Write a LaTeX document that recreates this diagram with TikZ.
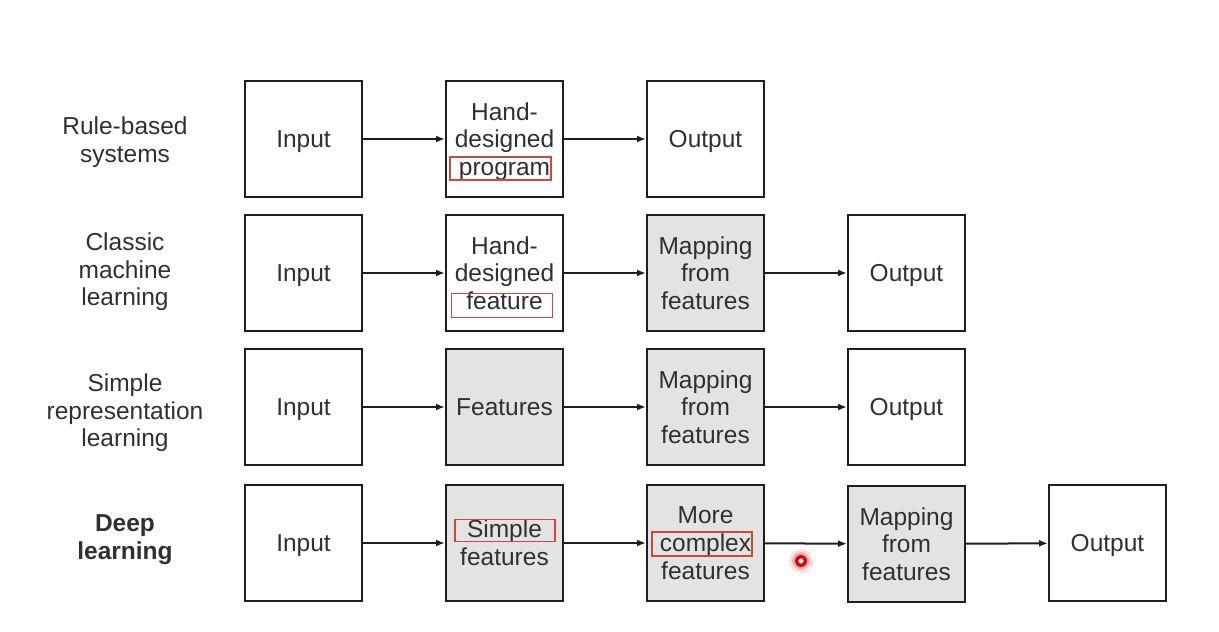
\documentclass[tikz,border=0pt]{standalone}
\usepackage{fontspec}
\setmainfont{Liberation Sans}
\usetikzlibrary{arrows.meta}
\definecolor{txt}{HTML}{303030}
\definecolor{edge}{HTML}{1E1E1E}
\definecolor{shade}{HTML}{E3E3E3}
\definecolor{hlred}{HTML}{D2473A}
\tikzset{
  stage/.style={draw=edge, line width=2pt, minimum width=117pt, minimum height=116pt,
    inner sep=0pt, align=center, text=txt, text depth=-3pt,
    font=\fontsize{24.5}{27.8}\selectfont},
  learned/.style={stage, fill=shade},
  rowlabel/.style={align=center, text=txt, font=\fontsize{24.5}{27.5}\selectfont},
  flow/.style={draw=edge, line width=2pt, -{Latex[length=9pt,width=7pt]}},
  hlbox/.style={draw=hlred, line width=1.3pt, inner sep=0pt}
}
\begin{document}
\begin{tikzpicture}[x=1pt,y=-1pt]
\useasboundingbox (0,0) rectangle (1219,632);
% row labels
\node[rowlabel] (l1) at (125,142) {Rule-based\\systems};
\node[rowlabel] (l2) at (125,272) {Classic\\machine\\learning};
\node[rowlabel] (l3) at (125,413) {Simple\\representation\\learning};
\node[rowlabel, font=\fontsize{24.5}{27.5}\selectfont\bfseries] (l4) at (125,539.5) {Deep\\learning};
% row 1
\node[stage] (a1) at (303.5,139) {Input};
\node[stage] (a2) at (504.5,139) {Hand-\\designed\\program};
\node[stage] (a3) at (705.5,139) {Output};
% row 2
\node[stage] (b1) at (303.5,273) {Input};
\node[stage] (b2) at (504.5,273) {Hand-\\designed\\feature};
\node[learned] (b3) at (705.5,273) {Mapping\\from\\features};
\node[stage] (b4) at (906.5,273) {Output};
% row 3
\node[stage] (c1) at (303.5,407) {Input};
\node[learned] (c2) at (504.5,407) {Features};
\node[learned] (c3) at (705.5,407) {Mapping\\from\\features};
\node[stage] (c4) at (906.5,407) {Output};
% row 4
\node[stage] (d1) at (303.5,543) {Input};
\node[learned] (d2) at (504.5,543) {Simple\\features};
\node[learned] (d3) at (705.5,543) {More\\complex\\features};
\node[learned] (d4) at (906.5,544) {Mapping\\from\\features};
\node[stage] (d5) at (1107.5,543) {Output};
% connectors
\draw[flow] (a1) -- (a2);
\draw[flow] (a2) -- (a3);
\draw[flow] (b1) -- (b2);
\draw[flow] (b2) -- (b3);
\draw[flow] (b3) -- (b4);
\draw[flow] (c1) -- (c2);
\draw[flow] (c2) -- (c3);
\draw[flow] (c3) -- (c4);
\draw[flow] (d1) -- (d2);
\draw[flow] (d2) -- (d3);
\draw[flow] (d3) -- (d4);
\draw[flow] (d4) -- (d5);
% red highlight frames
\node[hlbox, minimum width=101pt, minimum height=23pt] (h1) at (500.5,168.5) {};
\node[hlbox, minimum width=101pt, minimum height=24pt] (h2) at (502,305.5) {};
\node[hlbox, minimum width=100pt, minimum height=22pt] (h3) at (505,530.5) {};
\node[hlbox, minimum width=100pt, minimum height=24pt] (h4) at (702,544) {};
% pointer marker
\fill[red, opacity=0.12] (801,561) circle (12);
\fill[red, opacity=0.2] (801,561) circle (9);
\fill[red!90!black] (801,561) circle (6);
\fill[white] (801,561) circle (2.6);
\end{tikzpicture}
\end{document}
